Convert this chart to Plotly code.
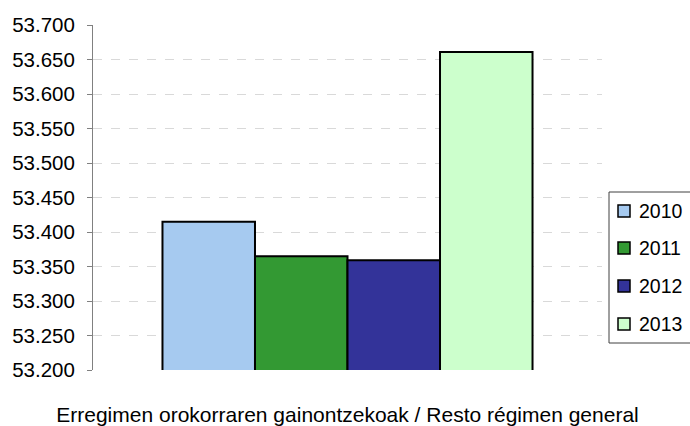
import plotly.graph_objects as go

# Category and yearly values
category = ["Erregimen orokorraren gainontzekoak / Resto régimen general"]
years = ["2010", "2011", "2012", "2013"]
values_2010 = [53415]
values_2011 = [53365]
values_2012 = [53359]
values_2013 = [53661]
series = [values_2010, values_2011, values_2012, values_2013]
colors = ["#A6CAF0", "#339933", "#333399", "#CCFFCC"]

W, H = 690, 426
ML, MR, MT, MB = 93, 88, 25, 56
PW, PH = W - ML - MR, H - MT - MB


def px_x(px):
    return (px - ML) / PW


def px_y(py):
    return (H - MB - py) / PH


fig = go.Figure()
for year, vals, col in zip(years, series, colors):
    fig.add_trace(go.Bar(
        x=category, y=vals, name=year, showlegend=False,
        marker=dict(color=col, line=dict(color="#000000", width=2)),
    ))

# Legend box on the right with a swatch and label per year
shapes = [dict(
    type="rect", xref="paper", yref="paper",
    x0=px_x(609), x1=px_x(700), y0=px_y(343), y1=px_y(192),
    line=dict(color="#404040", width=1), fillcolor="white", layer="above",
)]
annotations = []
row_y = [211, 248, 286, 324]
for year, col, cy in zip(years, colors, row_y):
    shapes.append(dict(
        type="rect", xref="paper", yref="paper",
        x0=px_x(618), x1=px_x(630), y0=px_y(cy + 6), y1=px_y(cy - 6),
        line=dict(color="#000000", width=1.5), fillcolor=col, layer="above",
    ))
    annotations.append(dict(
        xref="paper", yref="paper", x=px_x(637), y=px_y(cy),
        xanchor="left", yanchor="middle", text=year, showarrow=False,
        font=dict(size=19.5, color="#000000"),
    ))

fig.update_layout(
    width=W, height=H,
    margin=dict(l=ML, r=MR, t=MT, b=MB, autoexpand=False),
    paper_bgcolor="white", plot_bgcolor="white",
    font=dict(family="Liberation Sans, Arial, sans-serif", color="#000000", size=19),
    separators=",.",
    barmode="group", bargap=0.273, bargroupgap=0,
    showlegend=False,
    shapes=shapes, annotations=annotations,
)
fig.update_yaxes(
    range=[53200, 53700], dtick=50, tick0=53200, tickformat=",d",
    showline=True, linecolor="#808080", linewidth=1,
    ticks="outside", ticklen=5, tickcolor="#808080",
    showgrid=True, gridcolor="#D9D9D9", griddash="dash", gridwidth=1,
    zeroline=False, tickfont=dict(size=20.5), ticklabelstandoff=8,
)
fig.update_xaxes(
    showline=False, ticks="", showgrid=False,
    tickfont=dict(size=21), ticklabelstandoff=30,
)

fig.write_html("out.html")
